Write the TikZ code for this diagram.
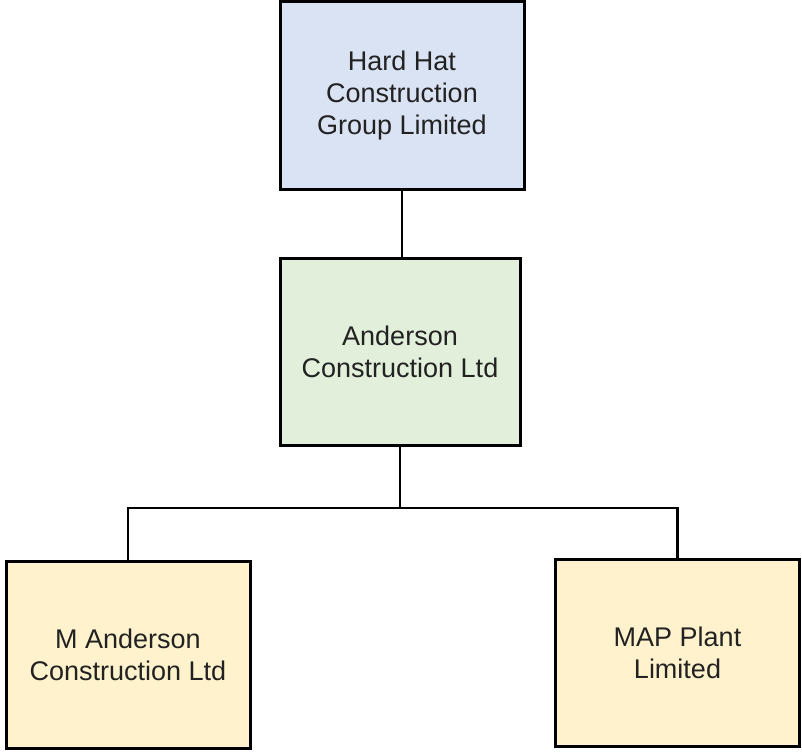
\documentclass[tikz,border=0pt]{standalone}
\usepackage{fontspec}
\setmainfont{Liberation Sans}
\definecolor{hatblue}{HTML}{DAE3F3}
\definecolor{andgreen}{HTML}{E2EFDA}
\definecolor{subyellow}{HTML}{FFF2CC}
\definecolor{inkgrey}{HTML}{222222}
\tikzset{
  company/.style={draw=black, line width=3pt, align=center,
    minimum width=244pt, minimum height=187pt, inner sep=0pt,
    text=inkgrey, font=\fontsize{27}{32}\selectfont},
  link/.style={line width=2.6pt}
}
\begin{document}
\begin{tikzpicture}[x=1pt, y=1pt]
  \useasboundingbox (0, 0) rectangle (802, -752);
  \pgfmathsetmacro{\busy}{-508}
  \node[company, fill=hatblue] (hardhat) at (402, -95.5)
       {Hard Hat\\Construction\\Group Limited};
  \node[company, fill=andgreen, minimum width=240pt] (anderson) at (400, -351.5)
       {Anderson\\Construction Ltd};
  \node[company, fill=subyellow] (manderson) at (128, -655)
       {M Anderson\\Construction Ltd};
  \node[company, fill=subyellow] (mapplant) at (677.5, -653)
       {MAP Plant\\Limited};
  \coordinate (bus) at (400, \busy);
  \draw[link] (hardhat.south) -- (hardhat.south |- anderson.north);
  \draw[link] (anderson.south) -- (bus);
  \draw[link] (bus) -| (manderson.north);
  \draw[link] (bus) -| (mapplant.north);
\end{tikzpicture}
\end{document}
